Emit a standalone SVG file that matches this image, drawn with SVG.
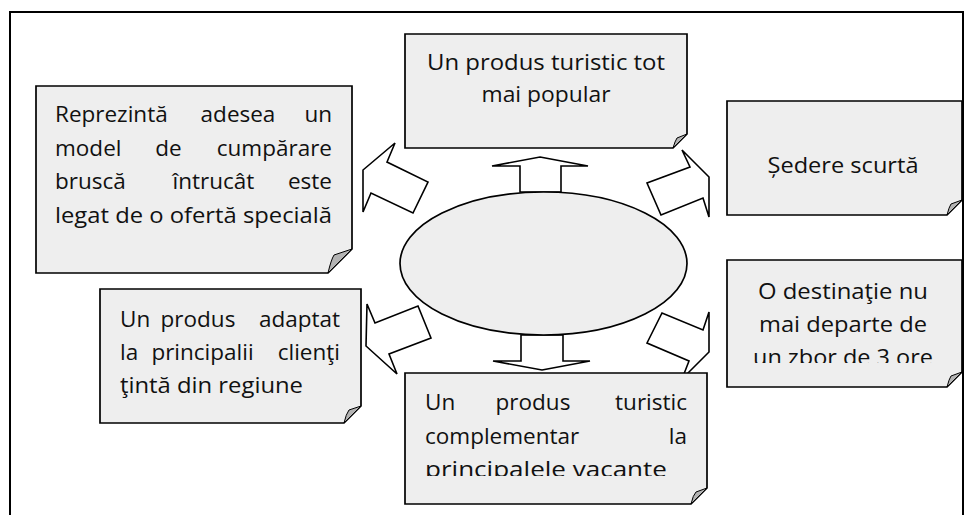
<svg xmlns="http://www.w3.org/2000/svg" width="966" height="515" viewBox="0 0 966 515">
<defs>
<style>
.box{fill:#eeeeee;stroke:#000;stroke-width:1.7;stroke-linejoin:miter}
.fold{fill:#b3b3b3;stroke:#000;stroke-width:1}
.arr{fill:#fff;stroke:#000;stroke-width:1.6;stroke-linejoin:miter}
.t{font-family:"Open Sans","Noto Sans","Liberation Sans",sans-serif;font-size:22.5px;fill:#111}
.m{text-anchor:middle}
.e{text-anchor:end}
</style>
<clipPath id="c1"><rect x="727" y="260" width="235" height="103"/></clipPath>
<clipPath id="c2"><rect x="405" y="373" width="302" height="103"/></clipPath>
</defs>
<rect x="10" y="12" width="953" height="520" fill="#fff" stroke="#000" stroke-width="2"/>

<g id="connectors">
<polygon class="arr" points="540,157 588,166 561,166 561,192 520,192 520,166 492,166"/>
<polygon class="arr" points="542,370 590,361 563,361 563,335 521,335 521,361 493,361"/>
<polygon class="arr" points="395,143 363,170 363,212 371,193 413,213 428,182 387,162"/>
<polygon class="arr" points="682,150 709,177 709,217 703,198 661,215 647,183 690,167"/>
<polygon class="arr" points="397,374 366,346 367,304 375,323 418,306 431,338 389,354"/>
<polygon class="arr" points="682,379 709,352 709,312 703,330 662,313 647,343 689,361"/>
</g>

<g id="center">
<ellipse cx="543.5" cy="263.5" rx="143.5" ry="71.5" fill="#eeeeee" stroke="#000" stroke-width="1.7"/>
</g>

<g id="n-top-left">
<path class="box" d="M36,86 H352 V249 L328,273 H36 Z"/>
<path class="fold" d="M352,249 L328,273 Q331,260 334,255 Z"/>
<text class="t" y="122"><tspan x="55">Reprezintă</tspan><tspan x="238" class="m">adesea</tspan><tspan x="332" class="e">un</tspan></text>
<text class="t" y="156"><tspan x="55">model</tspan><tspan x="168.5" class="m">de</tspan><tspan x="332" class="e">cumpărare</tspan></text>
<text class="t" y="189"><tspan x="55">bruscă</tspan><tspan x="213.5" class="m">întrucât</tspan><tspan x="332" class="e">este</tspan></text>
<text class="t" x="55" y="223" textLength="277" lengthAdjust="spacingAndGlyphs">legat de o ofertă specială</text>
</g>

<g id="n-top">
<path class="box" d="M405,34 H687 V134 L673,148 H405 Z"/>
<path class="fold" d="M687,134 L673,148 Q675,141 677,138 Z"/>
<text class="t m" x="546" y="70" textLength="238" lengthAdjust="spacingAndGlyphs">Un produs turistic tot</text>
<text class="t m" x="546" y="102" textLength="129" lengthAdjust="spacingAndGlyphs">mai popular</text>
</g>

<g id="n-right-top">
<path class="box" d="M727,101 H962 V200 L947,215 H727 Z"/>
<path class="fold" d="M962,200 L947,215 Q949,207 951,204 Z"/>
<text class="t m" x="843" y="173" textLength="151" lengthAdjust="spacingAndGlyphs">Ședere scurtă</text>
</g>

<g id="n-right-bottom">
<path class="box" d="M727,260 H962 V372 L947,387 H727 Z"/>
<path class="fold" d="M962,372 L947,387 Q949,379 951,376 Z"/>
<g clip-path="url(#c1)">
<text class="t m" x="843" y="299" textLength="170" lengthAdjust="spacingAndGlyphs">O destinaţie nu</text>
<text class="t m" x="843" y="332" textLength="168" lengthAdjust="spacingAndGlyphs">mai departe de</text>
<text class="t m" x="843" y="365" textLength="180" lengthAdjust="spacingAndGlyphs">un zbor de 3 ore</text>
</g>
</g>

<g id="n-left-bottom">
<path class="box" d="M100,289 H361 V406 L344,423 H100 Z"/>
<path class="fold" d="M361,406 L344,423 Q346,414 349,410 Z"/>
<text class="t" y="327"><tspan x="120">Un</tspan><tspan x="198" class="m">produs</tspan><tspan x="340" class="e">adaptat</tspan></text>
<text class="t" y="360"><tspan x="120">la</tspan><tspan x="202.5" class="m">principalii</tspan><tspan x="340" class="e">clienţi</tspan></text>
<text class="t" x="120" y="393" textLength="183" lengthAdjust="spacingAndGlyphs">ţintă din regiune</text>
</g>

<g id="n-bottom">
<path class="box" d="M405,373 H707 V488 L691,504 H405 Z"/>
<path class="fold" d="M707,488 L691,504 Q693,495 696,492 Z"/>
<g clip-path="url(#c2)">
<text class="t" y="410"><tspan x="425">Un</tspan><tspan x="533" class="m">produs</tspan><tspan x="687" class="e">turistic</tspan></text>
<text class="t" y="443.5"><tspan x="425">complementar</tspan><tspan x="687" class="e">la</tspan></text>
<text class="t" x="425" y="477" textLength="242" lengthAdjust="spacingAndGlyphs">principalele vacante</text>
</g>
</g>
</svg>
